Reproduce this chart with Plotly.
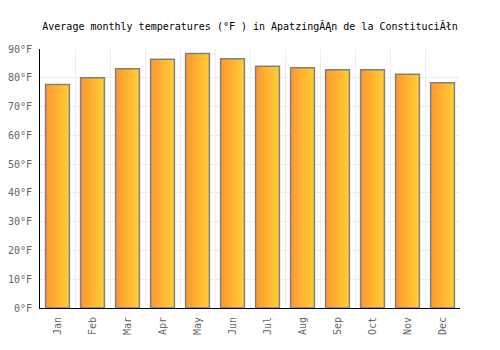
import plotly.graph_objects as go

months = ["Jan", "Feb", "Mar", "Apr", "May", "Jun", "Jul", "Aug", "Sep", "Oct", "Nov", "Dec"]
temps_f = [77.7, 80.0, 83.1, 86.4, 88.4, 86.6, 84.0, 83.5, 82.8, 82.8, 81.2, 78.3]
y_ticks = [0, 10, 20, 30, 40, 50, 60, 70, 80, 90]
y_labels = [f"{v}°F" for v in y_ticks]
title = "Average monthly temperatures (°F ) in ApatzingĂĄn de la ConstituciĂłn"

FONT = "DejaVu Sans Mono"
bar_w = 0.68
n_slices = 14
c0 = (255, 152, 48)
c1 = (255, 204, 52)

fig = go.Figure()
sw = bar_w / n_slices
for k in range(n_slices):
    t = k / (n_slices - 1)
    col = "rgb({},{},{})".format(*[round(a + (b - a) * t) for a, b in zip(c0, c1)])
    fig.add_trace(go.Bar(
        x=months, y=temps_f, width=sw * 1.15, offset=-bar_w / 2 + k * sw,
        marker=dict(color=col, line=dict(width=0)), hoverinfo="skip", showlegend=False,
    ))
fig.add_trace(go.Bar(
    x=months, y=temps_f, width=bar_w, offset=-bar_w / 2,
    marker=dict(color="rgba(0,0,0,0)", line=dict(color="#808080", width=1.5)),
    showlegend=False,
))

fig.update_layout(
    width=500, height=350,
    margin=dict(l=40, r=40, t=49, b=42, autoexpand=False),
    paper_bgcolor="white", plot_bgcolor="white",
    barmode="overlay",
    title=dict(text=title, x=0.5, xanchor="center", y=0.925, yanchor="middle",
               font=dict(family=FONT, size=10, color="black")),
    font=dict(family=FONT, size=10, color="#666666"),
    xaxis=dict(type="category", range=[-0.5, 11.5], tickson="boundaries",
               showgrid=True, gridcolor="#eeeeee", gridwidth=1, tickangle=-90,
               showline=True, linecolor="black", linewidth=1, ticks="",
               ticklabelstandoff=4, automargin=False,
               tickfont=dict(family=FONT, size=10, color="#666666")),
    yaxis=dict(range=[0, 90], tickvals=y_ticks, ticktext=y_labels, showgrid=True,
               gridcolor="#eeeeee", gridwidth=1, zeroline=False, showline=True,
               linecolor="black", linewidth=1, ticks="", ticklabelstandoff=5,
               automargin=False,
               tickfont=dict(family=FONT, size=10, color="#666666")),
)

fig.write_html("out.html")
